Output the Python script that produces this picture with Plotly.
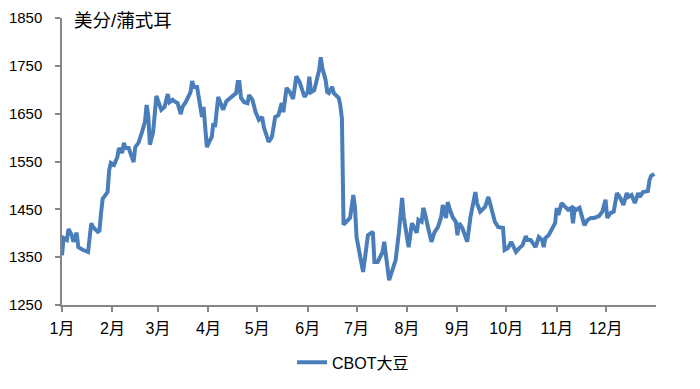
import pandas as pd
import plotly.graph_objects as go

# Day offsets from 2022-01-01 and CBOT soybean price (US cents / bushel)
day_offsets = [0, 1, 3, 4, 6, 7, 9, 10, 13, 16, 18, 19, 22, 23, 24, 25, 28, 29, 30, 32,
               34, 35, 37, 38, 39, 41, 42, 44, 45, 47, 49, 51, 52, 53, 54, 56, 58, 60, 61, 63,
               65, 66, 68, 69, 71, 73, 74, 76, 79, 80, 81, 83, 84, 86, 87, 89, 91, 92, 93, 94,
               96, 97, 99, 101, 104, 107, 108, 109, 110, 112, 114, 115, 117, 119, 121, 123, 124, 127, 129, 131,
               133, 134, 135, 136, 138, 140, 142, 144, 146, 149, 151, 152, 153, 155, 157, 158, 159, 160, 162, 163,
               164, 166, 167, 169, 170, 171, 172, 173, 175, 177, 179, 180, 181, 183, 185, 186, 188, 191, 192, 194,
               197, 198, 199, 201, 203, 205, 207, 209, 210, 213, 215, 217, 218, 219, 221, 222, 223, 225, 227, 229,
               231, 233, 234, 236, 237, 238, 240, 242, 243, 244, 246, 249, 251, 254, 255, 257, 260, 262, 264, 266,
               268, 270, 271, 272, 274, 276, 279, 281, 283, 285, 286, 288, 290, 291, 293, 295, 296, 297, 299, 301,
               303, 304, 305, 307, 309, 311, 313, 314, 315, 316, 318, 319, 321, 323, 325, 327, 329, 330, 332, 334,
               335, 337, 339, 341, 343, 345, 347, 348, 350, 352, 354, 355, 357, 360, 361, 362, 364]
prices = [1354, 1390, 1386, 1409, 1396, 1382, 1401, 1371, 1365, 1361, 1421, 1413, 1403, 1405, 1442, 1472, 1486, 1532, 1547, 1543,
          1559, 1578, 1568, 1589, 1578, 1578, 1568, 1549, 1580, 1589, 1610, 1633, 1668, 1647, 1585, 1612, 1687, 1664, 1658, 1664,
          1691, 1674, 1679, 1676, 1672, 1649, 1664, 1674, 1695, 1718, 1706, 1706, 1685, 1643, 1664, 1580, 1595, 1601, 1630, 1622,
          1685, 1674, 1658, 1676, 1685, 1693, 1716, 1716, 1683, 1674, 1672, 1689, 1679, 1653, 1637, 1643, 1622, 1591, 1601, 1643,
          1647, 1658, 1672, 1653, 1704, 1695, 1681, 1728, 1716, 1685, 1695, 1727, 1695, 1699, 1731, 1741, 1768, 1745, 1720, 1695,
          1693, 1706, 1693, 1685, 1683, 1668, 1640, 1418, 1424, 1432, 1480, 1455, 1392, 1359, 1319, 1344, 1396, 1403, 1340, 1340,
          1361, 1382, 1359, 1302, 1323, 1344, 1401, 1474, 1434, 1371, 1421, 1405, 1401, 1428, 1424, 1453, 1442, 1411, 1382, 1403,
          1413, 1434, 1459, 1432, 1465, 1453, 1434, 1424, 1396, 1421, 1411, 1382, 1434, 1486, 1463, 1445, 1455, 1476, 1449, 1424,
          1413, 1411, 1411, 1365, 1369, 1382, 1361, 1369, 1375, 1394, 1386, 1386, 1375, 1371, 1392, 1386, 1371, 1390, 1396, 1407,
          1421, 1453, 1438, 1463, 1455, 1449, 1453, 1421, 1451, 1449, 1453, 1438, 1417, 1428, 1432, 1432, 1434, 1436, 1445, 1470,
          1432, 1442, 1445, 1484, 1474, 1459, 1484, 1476, 1480, 1463, 1484, 1476, 1486, 1488, 1511, 1520, 1524]

month_starts = ["2022-%02d-01" % m for m in range(1, 13)]
month_labels = ["1月", "2月", "3月", "4月", "5月", "6月", "7月", "8月", "9月", "10月", "11月", "12月"]
y_ticks = [1250, 1350, 1450, 1550, 1650, 1750, 1850]
series_name = "CBOT大豆"
unit_label = "美分/蒲式耳"

dates = pd.Timestamp("2022-01-01") + pd.to_timedelta(day_offsets, unit="D")

FONT = "Liberation Sans, Noto Sans CJK SC, sans-serif"
AXIS = "#868686"

fig = go.Figure()
fig.add_trace(go.Scatter(
    x=dates, y=prices, mode="lines", name=series_name,
    line=dict(color="#4A7EBB", width=4),
))

fig.update_layout(
    width=700, height=389,
    margin=dict(l=54, r=52, t=10, b=92),
    paper_bgcolor="white", plot_bgcolor="white",
    font=dict(family=FONT, size=16, color="#000000"),
    showlegend=True,
    legend=dict(orientation="h", x=0.49, xanchor="center", y=-0.2, yanchor="middle",
                font=dict(size=16, color="#000000"), itemwidth=30),
    xaxis=dict(
        type="date", range=["2022-01-01", "2023-01-01"], automargin=False,
        tickmode="array", tickvals=month_starts, ticktext=month_labels,
        showgrid=False, zeroline=False,
        showline=True, linecolor=AXIS, linewidth=1.5,
        ticks="outside", ticklen=5, tickcolor=AXIS, tickwidth=1.5,
        tickfont=dict(size=16), ticklabelstandoff=3,
    ),
    yaxis=dict(
        range=[1250, 1850], tickmode="array", tickvals=y_ticks, automargin=False,
        showgrid=False, zeroline=False,
        showline=True, linecolor=AXIS, linewidth=1.5,
        ticks="outside", ticklen=5, tickcolor=AXIS, tickwidth=1.5,
        tickfont=dict(size=15), ticklabelstandoff=10,
    ),
    annotations=[dict(
        text=unit_label, xref="paper", yref="paper", x=0.017, y=0.99,
        xanchor="left", yanchor="middle", showarrow=False,
        font=dict(size=18.5, color="#000000"),
    )],
)

fig.write_html("out.html")
